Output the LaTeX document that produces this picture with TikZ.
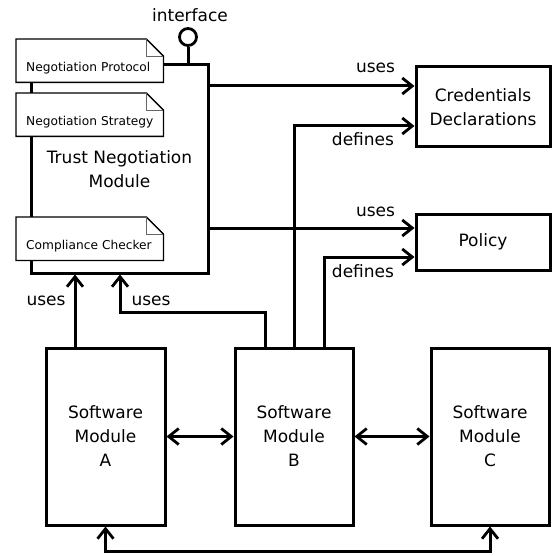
\documentclass[tikz,border=0pt]{standalone}
\usepackage{fontspec}
\setmainfont{DejaVu Sans}
\usetikzlibrary{arrows.meta,calc}
\newcommand\bigtxt{\fontsize{17}{24}\selectfont}
\newcommand\smalltxt{\fontsize{12.2}{15}\selectfont}
\begin{document}
\begin{tikzpicture}[x=1pt,y=-1pt,
  box/.style={draw, line width=3pt, fill=white, inner sep=0pt, align=center, font=\bigtxt},
  notebox/.style={fill=white, anchor=north west, minimum width=147pt, text width=127pt,
    inner xsep=10pt, inner ysep=0pt, text height=32pt, text depth=11pt, align=left, font=\smalltxt},
  noteline/.style={line width=1.3pt},
  foldline/.style={line width=0.9pt, black!60},
  arr/.style={line width=3pt, -{Straight Barb[length=10pt,width=16pt,line width=2.8pt]}},
  biarr/.style={line width=3pt, {Straight Barb[length=10pt,width=16pt,line width=2.8pt]}-{Straight Barb[length=10pt,width=16pt,line width=2.8pt]}},
  lbl/.style={font=\bigtxt, inner sep=0pt}]
\useasboundingbox (0,0) rectangle (552,556);

% main blocks
\node[box, minimum width=177pt, minimum height=208pt] (tnm) at (119.5,169) {Trust Negotiation\\Module};
\node[box, minimum width=134pt, minimum height=80pt] (cred) at (483,107) {Credentials\\Declarations};
\node[box, minimum width=134pt, minimum height=56pt] (pol) at (483,242) {Policy};
\node[box, minimum width=119pt, minimum height=177pt] (A) at (105.5,436.5) {Software\\Module\\A};
\node[box, minimum width=118pt, minimum height=177pt] (B) at (294,436.5) {Software\\Module\\B};
\node[box, minimum width=118pt, minimum height=177pt] (C) at (490,436.5) {Software\\Module\\C};

% interface lollipop
\node[draw, circle, line width=2.8pt, minimum size=17pt, inner sep=0pt] (ifc) at (188,37) {};
\node[lbl] (ifclbl) at (190,15) {interface};
\draw[line width=3pt] (ifc.south) -- (ifc.south |- tnm.north);

% dog-eared notes inside the negotiation module
\node[notebox] (np) at (16,39) {\mbox{Negotiation Protocol}};
\node[notebox] (ns) at (16,93) {\mbox{Negotiation Strategy}};
\node[notebox] (cc) at (16,217) {\mbox{Compliance Checker}};
\foreach \n in {np,ns,cc}{
  \draw[noteline] (\n.south west) -- (\n.north west) -- ([xshift=-17pt]\n.north east)
    -- ([yshift=-17pt]\n.north east) -- (\n.south east) -- cycle;
  \draw[foldline] ([xshift=-17pt]\n.north east) |- ([yshift=-17pt]\n.north east);
}

% levels of the horizontal runs
\coordinate (yCredUse) at (0,86);
\coordinate (yCredDef) at (0,126);
\coordinate (yPolUse) at (0,228);
\coordinate (yPolDef) at (0,257);
\coordinate (yBUse) at (0,312);
\coordinate (xTnmIn) at (120,0);
\coordinate (yBottom) at (0,551);

% uses: module -> resources
\draw[arr] (tnm.east |- yCredUse) -- (cred.west |- yCredUse)
  node[lbl, pos=1, anchor=base east, xshift=-18pt, yshift=13pt] {uses};
\draw[arr] (tnm.east |- yPolUse) -- (pol.west |- yPolUse)
  node[lbl, pos=1, anchor=base east, xshift=-18pt, yshift=12pt] {uses};

% defines: module B -> resources
\draw[arr] (B.north) -- (B.north |- yCredDef) -- (cred.west |- yCredDef)
  node[lbl, pos=1, anchor=base east, xshift=-19pt, yshift=-20pt] {defines};
\draw[arr] ([xshift=30pt]B.north) -- ([xshift=30pt]B.north |- yPolDef) -- (pol.west |- yPolDef)
  node[lbl, pos=1, anchor=base east, xshift=-19pt, yshift=-20pt] {defines};

% uses: software modules -> negotiation module
\draw[arr] ([xshift=-30.5pt]A.north) -- ([xshift=-30.5pt]A.north |- tnm.south)
  node[lbl, pos=0.57, anchor=base east, xshift=-8pt] {uses};
\draw[arr] ([xshift=-29pt]B.north) -- ([xshift=-29pt]B.north |- yBUse) -- (xTnmIn |- yBUse)
  -- (xTnmIn |- tnm.south)
  node[lbl, pos=0.17, anchor=base west, xshift=10pt] {uses};

% links between software modules
\draw[biarr] (A.east) -- (B.west);
\draw[biarr] (B.east) -- (C.west);
\draw[biarr] (A.south) -- (A.south |- yBottom) -- (C.south |- yBottom) -- (C.south);
\end{tikzpicture}
\end{document}
